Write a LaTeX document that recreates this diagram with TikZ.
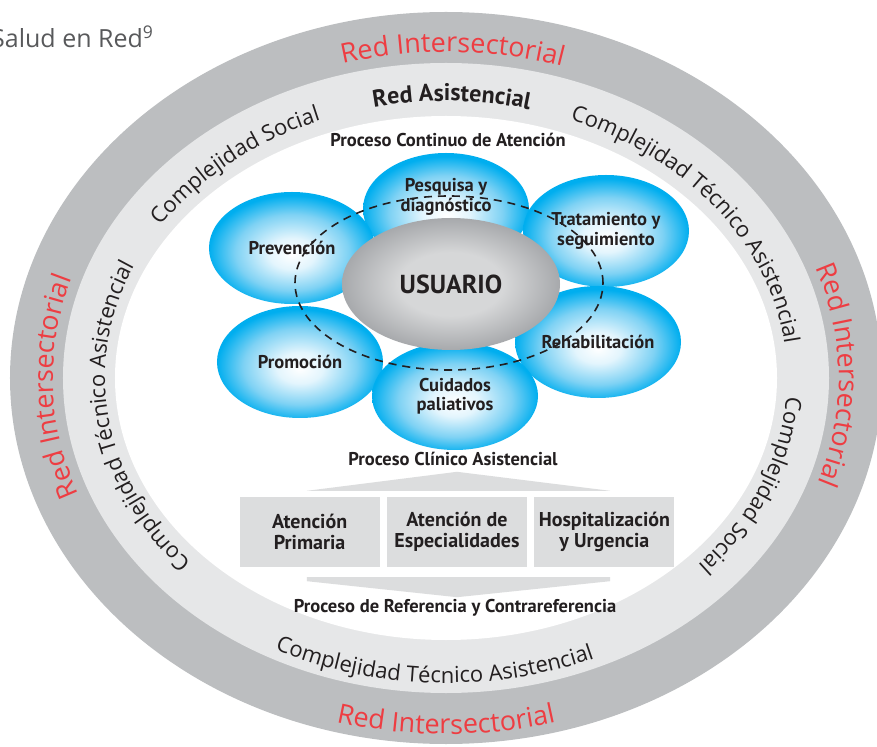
\documentclass[tikz,border=0pt]{standalone}
\usepackage{fontspec}
\setmainfont{PT Sans}
\newfontfamily\ringfont{Open Sans}
\usepackage{tikz}
\usetikzlibrary{shapes.geometric,decorations.text}
\usetikzlibrary{positioning}
\usetikzlibrary{calc}
\definecolor{ringdark}{HTML}{BCBEC0}
\definecolor{ringlight}{HTML}{E6E7E8}
\definecolor{boxgray}{HTML}{DCDDDE}
\definecolor{redtext}{HTML}{EE3D42}
\definecolor{darktext}{HTML}{231F20}
\definecolor{titlegray}{HTML}{58595B}
\definecolor{bubblecyan}{HTML}{00AEEF}
\definecolor{bubblemid}{HTML}{7FD2F4}
\definecolor{bubblepale}{HTML}{E3F5FD}
\definecolor{usrlight}{HTML}{D6D7D8}
\definecolor{usrdark}{HTML}{A7A9AC}
\pgfdeclareradialshading{bubbleshade}{\pgfpoint{0bp}{-3bp}}{color(0bp)=(white); color(7bp)=(bubblepale); color(17bp)=(bubblemid); color(25bp)=(bubblecyan); color(50bp)=(bubblecyan)}
\pgfdeclareradialshading{usrshade}{\pgfpoint{0bp}{0bp}}{color(0bp)=(usrlight); color(12bp)=(usrlight); color(25bp)=(usrdark); color(50bp)=(usrdark)}
\newcommand{\redring}{\ringfont\fontsize{27}{27}\selectfont\color{redtext}}
\newcommand{\grayring}{\ringfont\fontsize{22}{22}\selectfont\color{darktext}}
\tikzset{bubble label/.style={font=\bfseries\fontsize{18.5}{19.5}\selectfont, text=darktext, align=center}}
\tikzset{bubble/.style={bubble label, ellipse, shade, shading=bubbleshade, minimum width=166pt, minimum height=112pt, inner sep=0pt}}
\tikzset{level box/.style={rectangle, fill=boxgray, minimum width=140pt, minimum height=70pt, inner sep=0pt, font=\bfseries\fontsize{20}{21}\selectfont, text=darktext, align=center}}
\tikzset{process label/.style={font=\bfseries\fontsize{18.5}{19}\selectfont, text=darktext}}
\tikzset{ring text/.style={decorate, decoration={text along path, text align=center, text={#1}}}}

\begin{document}
\begin{tikzpicture}[x=1pt, y=1pt, node distance=7pt]
\useasboundingbox (-446,-368) rectangle (431,378);
\clip (-446,-368) rectangle (431,378);
\fill[ringdark] (0,0) ellipse [x radius=436, y radius=366];
\fill[ringlight] (0,0) ellipse [x radius=383, y radius=315];
\fill[white] (0,0) ellipse [x radius=331, y radius=262];
\node[anchor=base west, inner sep=0pt, font=\ringfont\fontsize{25}{25}\selectfont, text=titlegray] (title) at (-455,330) {Salud en Red\textsuperscript{9}};
\path[ring text={|\redring|Red Intersectorial}] (119:393 and 326) arc[start angle=119, end angle=59, x radius=393, y radius=326];
\path[ring text={|\redring|Red Intersectorial}] (240:426 and 356) arc[start angle=240, end angle=300, x radius=426, y radius=356];
\path[ring text={|\redring|Red Intersectorial}] (211.5:393 and 326) arc[start angle=211.5, end angle=151.5, x radius=393, y radius=326];
\path[ring text={|\redring|Red Intersectorial}] (30.5:393 and 326) arc[start angle=30.5, end angle=-29.5, x radius=393, y radius=326];
\path[ring text={|\bfseries\fontsize{24}{24}\selectfont\color{darktext}|Red Asistencial}] (117:341 and 277) arc[start angle=117, end angle=61, x radius=341, y radius=277];
\path[ring text={|\grayring|Complejidad Social}] (160:341 and 277) arc[start angle=160, end angle=100, x radius=341, y radius=277];
\path[ring text={|\grayring|Complejidad Técnico Asistencial}] (81.5:341 and 277) arc[start angle=81.5, end angle=-8.5, x radius=341, y radius=277];
\path[ring text={|\grayring|Complejidad Social}] (7.5:341 and 277) arc[start angle=7.5, end angle=-52.5, x radius=341, y radius=277];
\path[ring text={|\grayring|Complejidad Técnico Asistencial}] (233.5:341 and 277) arc[start angle=233.5, end angle=143.5, x radius=341, y radius=277];
\path[ring text={|\grayring|Complejidad Técnico Asistencial}] (228:376 and 305) arc[start angle=228, end angle=308, x radius=376, y radius=305];
\node[process label] (pca) at (2,238) {Proceso Continuo de Atención};
\node[bubble] (pesq) at (0,169) {};
\node[bubble label] (pesqtxt) at ([yshift=12]pesq.center) {Pesquisa y\\diagnóstico};
\node[bubble] (prev) at (-154,130) {Prevención};
\node[bubble] (trat) at (160,147) {Tratamiento y\\seguimiento};
\node[bubble] (prom) at (-146,16) {Promoción};
\node[bubble] (rehab) at (152,36) {Rehabilitación};
\node[bubble, minimum height=108pt] (cuid) at (9,-18) {Cuidados\\paliativos};
\node[ellipse, shade, shading=usrshade, minimum width=218pt, minimum height=132pt, inner sep=0pt, font=\bfseries\fontsize{26}{26}\selectfont, text=darktext] (usr) at (5,94) {USUARIO};
\draw[line width=1.6pt, dash pattern=on 8pt off 6pt, darktext] (3,95) ellipse [x radius=154, y radius=87];
\node[process label] (pcl) at (7,-81) {Proceso Clínico Asistencial};
\node[level box] (esp) at (11,-154) {Atención de\\Especialidades};
\node[level box, left=of esp] (prim) {Atención\\Primaria};
\node[level box, right=of esp] (hosp) {Hospitalización\\y Urgencia};
\fill[boxgray] ([xshift=-150,yshift=6]esp.north) -- ([yshift=25]esp.north) -- ([xshift=153,yshift=6]esp.north) -- cycle;
\fill[boxgray] ([xshift=-150,yshift=-10]esp.south) -- ([xshift=153,yshift=-10]esp.south) -- ([xshift=153,yshift=-14]esp.south) -- ([yshift=-30]esp.south) -- ([xshift=-150,yshift=-14]esp.south) -- cycle;
\node[process label] (prc) at (9,-230) {Proceso de Referencia y Contrareferencia};
\end{tikzpicture}
\end{document}
